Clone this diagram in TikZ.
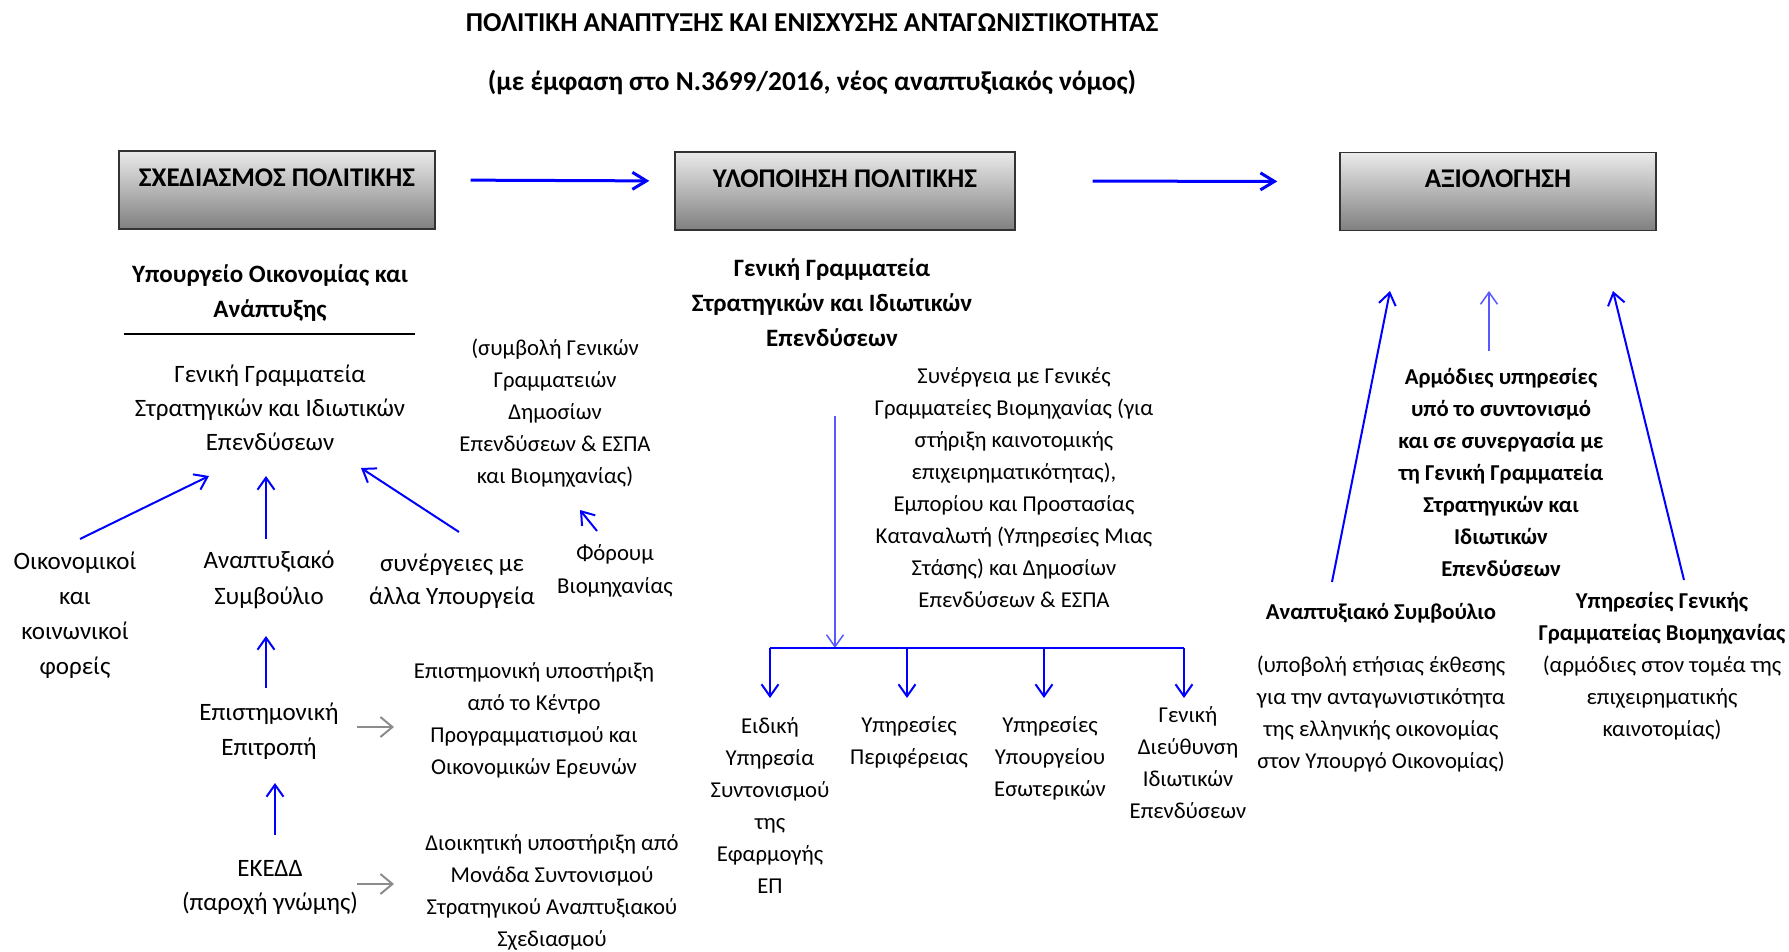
\documentclass[tikz,border=0pt]{standalone}
\usepackage{fontspec}
\setmainfont{Carlito}
\usetikzlibrary{arrows.meta}
\tikzset{
  txt/.style={font=\fontsize{22.7}{32}\selectfont, align=center, inner sep=0pt, text=black},
  btxt/.style={txt, font=\fontsize{22.7}{32}\selectfont\bfseries},
  ltxt/.style={txt, font=\fontsize{25}{34}\selectfont},
  lbtxt/.style={txt, font=\fontsize{25}{35}\selectfont\bfseries},
  boxn/.style={draw=black!80, line width=1.4pt, top color=black!8, bottom color=black!50,
    minimum width=316pt, minimum height=78pt, inner xsep=0pt, inner ysep=17pt,
    text height=18pt, text depth=25pt, font=\fontsize{27}{30}\selectfont\bfseries, align=center},
  barrow/.style={draw=blue, line width=2pt, -{Straight Barb[length=12pt,width=17pt,line width=2pt]}},
  tarrow/.style={draw=blue, line width=3pt, -{Straight Barb[length=14pt,width=17pt,line width=3pt]}},
  larrow/.style={draw=blue!65, line width=1.5pt, -{Straight Barb[length=12pt,width=17pt,line width=1.5pt]}},
  garrow/.style={draw=black!45, line width=2pt, -{Straight Barb[length=12pt,width=20pt,line width=2pt]}},
  bline/.style={draw=blue, line width=2pt},
}
\begin{document}
\begin{tikzpicture}[x=1pt,y=-1pt]
\useasboundingbox (0,0) rectangle (1789,952);
% titles
\node[txt, font=\fontsize{27.3}{32}\selectfont\bfseries] (t1) at (812,23) {ΠΟΛΙΤΙΚΗ ΑΝΑΠΤΥΞΗΣ ΚΑΙ ΕΝΙΣΧΥΣΗΣ ΑΝΤΑΓΩΝΙΣΤΙΚΟΤΗΤΑΣ};
\node[txt, font=\fontsize{27.3}{32}\selectfont\bfseries] (t2) at (812,83) {(με έμφαση στο Ν.3699/2016, νέος αναπτυξιακός νόμος)};
% boxes
\node[boxn] (b1) at (277,190) {ΣΧΕΔΙΑΣΜΟΣ ΠΟΛΙΤΙΚΗΣ};
\node[boxn, minimum width=340pt] (b2) at (845,191) {ΥΛΟΠΟΙΗΣΗ ΠΟΛΙΤΙΚΗΣ};
\node[boxn] (b3) at (1498,191.5) {ΑΞΙΟΛΟΓΗΣΗ};
\draw[tarrow, shorten <=35pt, shorten >=25pt] ([yshift=10pt]b1.east) -- ([yshift=10pt]b2.west);
\draw[tarrow, shorten <=77pt, shorten >=62pt] ([yshift=10pt]b2.east) -- ([yshift=10pt]b3.west);
% left column
\node[lbtxt] (mo) at (270,293) {Υπουργείο Οικονομίας και\\Ανάπτυξης};
\coordinate (ul) at (124,334);
\coordinate (ur) at (415,334);
\draw[black, line width=1.2pt] (ul) -- (ur);
\node[ltxt] (gg1) at (270,408) {Γενική Γραμματεία\\Στρατηγικών και Ιδιωτικών\\Επενδύσεων};
\node[txt] (symb) at (555,413) {(συμβολή Γενικών\\Γραμματειών\\Δημοσίων\\Επενδύσεων \& ΕΣΠΑ\\και Βιομηχανίας)};
\node[ltxt, font=\fontsize{25}{35}\selectfont] (oik) at (75,615) {Οικονομικοί\\και\\κοινωνικοί\\φορείς};
\node[ltxt, font=\fontsize{25}{36}\selectfont] (anap) at (269,580) {Αναπτυξιακό\\Συμβούλιο};
\node[ltxt, font=\fontsize{25}{33}\selectfont] (syn) at (452,581) {συνέργειες με\\άλλα Υπουργεία};
\node[txt, font=\fontsize{22.7}{33}\selectfont] (forum) at (615,571) {Φόρουμ\\Βιομηχανίας};
\node[ltxt, font=\fontsize{25}{35}\selectfont] (epit) at (269,731) {Επιστημονική\\Επιτροπή};
\node[txt] (kepe) at (534,720) {Επιστημονική υποστήριξη\\από το Κέντρο\\Προγραμματισμού και\\Οικονομικών Ερευνών};
\node[ltxt] (ekedd) at (270,888) {ΕΚΕΔΔ\\(παροχή γνώμης)};
\node[txt] (dioik) at (552,892) {Διοικητική υποστήριξη από\\Μονάδα Συντονισμού\\Στρατηγικού Αναπτυξιακού\\Σχεδιασμού};
\draw[barrow] ([shift={(5,-76)}]oik.center) -- ([shift={(-61,68)}]gg1.center);
\draw[barrow] ([shift={(-3,-41)}]anap.center) -- ([shift={(-4,68)}]gg1.center);
\draw[barrow] ([shift={(7,-49)}]syn.center) -- ([shift={(91,60)}]gg1.center);
\draw[barrow] ([shift={(-18,-40)}]forum.center) -- ([shift={(25,97)}]symb.center);
\draw[barrow] ([shift={(-3,-43)}]epit.center) -- ([shift={(-3,56)}]anap.center);
\draw[barrow] ([shift={(5,-53)}]ekedd.center) -- ([shift={(6,52)}]epit.center);
\draw[garrow] ([shift={(88,-4)}]epit.center) -- ([shift={(-140,7)}]kepe.center);
\draw[garrow] ([shift={(87,-4)}]ekedd.center) -- ([shift={(-158,-8)}]dioik.center);
% middle column
\node[lbtxt] (gg2) at (832,303) {Γενική Γραμματεία\\Στρατηγικών και Ιδιωτικών\\Επενδύσεων};
\node[txt] (syn2) at (1014,488) {Συνέργεια με Γενικές\\Γραμματείες Βιομηχανίας (για\\στήριξη καινοτομικής\\επιχειρηματικότητας),\\Εμπορίου και Προστασίας\\Καταναλωτή (Υπηρεσίες Μιας\\Στάσης) και Δημοσίων\\Επενδύσεων \& ΕΣΠΑ};
\coordinate (hl) at (770,648);
\coordinate (hr) at (1184,648);
\coordinate (hm) at (835,648);
\draw[larrow] ([shift={(3,113)}]gg2.center) -- (hm);
\node[txt] (n1) at (770,806) {Ειδική\\Υπηρεσία\\Συντονισμού\\της\\Εφαρμογής\\ΕΠ};
\node[txt] (n2) at (909,742) {Υπηρεσίες\\Περιφέρειας};
\node[txt] (n3) at (1050,758) {Υπηρεσίες\\Υπουργείου\\Εσωτερικών};
\node[txt] (n4) at (1188,763) {Γενική\\Διεύθυνση\\Ιδιωτικών\\Επενδύσεων};
\coordinate (n2t) at ([shift={(-2,-44)}]n2.center);
\coordinate (n3t) at ([shift={(-6,-60)}]n3.center);
\draw[bline] (hl) -- (hr);
\draw[barrow] (hl) -- ([shift={(0,-108)}]n1.center);
\draw[barrow] (n2t |- hl) -- (n2t);
\draw[barrow] (n3t |- hl) -- (n3t);
\draw[barrow] (hr) -- ([shift={(-4,-65)}]n4.center);
% right column
\node[btxt] (arm) at (1501,472) {Αρμόδιες υπηρεσίες\\υπό το συντονισμό\\και σε συνεργασία με\\τη Γενική Γραμματεία\\Στρατηγικών και\\Ιδιωτικών\\Επενδύσεων};
\node[btxt] (asb) at (1381,613) {Αναπτυξιακό Συμβούλιο};
\node[txt] (asbt) at (1381,714) {(υποβολή ετήσιας έκθεσης\\για την ανταγωνιστικότητα\\της ελληνικής οικονομίας\\στον Υπουργό Οικονομίας)};
\node[btxt] (ygb) at (1662,618) {Υπηρεσίες Γενικής\\Γραμματείας Βιομηχανίας};
\node[txt] (ygbt) at (1662,698) {(αρμόδιες στον τομέα της\\επιχειρηματικής\\καινοτομίας)};
\draw[barrow] ([shift={(-49,-31)}]asb.center) -- ([shift={(-108,99.5)}]b3.center);
\draw[larrow] ([shift={(-12,-121)}]arm.center) -- ([shift={(-9,99.5)}]b3.center);
\draw[barrow] ([shift={(22,-38)}]ygb.center) -- ([shift={(115,99.5)}]b3.center);
\end{tikzpicture}
\end{document}
